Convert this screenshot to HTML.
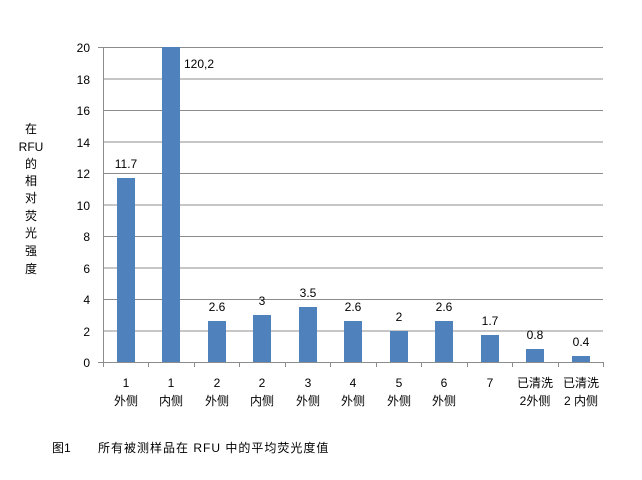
<!DOCTYPE html>
<html><head><meta charset="utf-8"><style>
body{margin:0;background:#fff;}
svg text{font-family:"Liberation Sans","Noto Sans CJK SC",sans-serif;font-size:12px;fill:#000;}
</style></head><body>
<svg width="642" height="475" xmlns="http://www.w3.org/2000/svg">
<g stroke="#8c8c8c" stroke-width="1">
<line x1="103" y1="47.5" x2="603" y2="47.5"/>
<line x1="103" y1="79" x2="603" y2="79"/>
<line x1="103" y1="110.5" x2="603" y2="110.5"/>
<line x1="103" y1="142" x2="603" y2="142"/>
<line x1="103" y1="173.5" x2="603" y2="173.5"/>
<line x1="103" y1="205" x2="603" y2="205"/>
<line x1="103" y1="236.5" x2="603" y2="236.5"/>
<line x1="103" y1="268" x2="603" y2="268"/>
<line x1="103" y1="299.5" x2="603" y2="299.5"/>
<line x1="103" y1="331" x2="603" y2="331"/>
<line x1="98" y1="362.5" x2="603" y2="362.5"/>
<line x1="103.5" y1="47" x2="103.5" y2="362"/>
<line x1="98" y1="47.5" x2="103" y2="47.5"/>
</g>
<g stroke="#8c8c8c">
<line x1="103.5" y1="362" x2="103.5" y2="367"/><line x1="148.5" y1="362" x2="148.5" y2="367"/><line x1="194.5" y1="362" x2="194.5" y2="367"/><line x1="239.5" y1="362" x2="239.5" y2="367"/><line x1="285.5" y1="362" x2="285.5" y2="367"/><line x1="330.5" y1="362" x2="330.5" y2="367"/><line x1="376.5" y1="362" x2="376.5" y2="367"/><line x1="421.5" y1="362" x2="421.5" y2="367"/><line x1="467.5" y1="362" x2="467.5" y2="367"/><line x1="512.5" y1="362" x2="512.5" y2="367"/><line x1="558.5" y1="362" x2="558.5" y2="367"/><line x1="603.5" y1="362" x2="603.5" y2="367"/>
</g>
<g text-anchor="end">
<text x="90" y="52">20</text><text x="90" y="84">18</text><text x="90" y="115">16</text><text x="90" y="147">14</text><text x="90" y="178">12</text><text x="90" y="210">10</text><text x="90" y="241">8</text><text x="90" y="273">6</text><text x="90" y="304">4</text><text x="90" y="336">2</text><text x="90" y="367">0</text>
</g>
<g fill="#4f81bd">
<rect x="117" y="178" width="18" height="184"/>
<rect x="162" y="47" width="18" height="315"/>
<rect x="208" y="321" width="18" height="41"/>
<rect x="253" y="315" width="18" height="47"/>
<rect x="299" y="307" width="18" height="55"/>
<rect x="344" y="321" width="18" height="41"/>
<rect x="390" y="331" width="18" height="31"/>
<rect x="435" y="321" width="18" height="41"/>
<rect x="481" y="335" width="18" height="27"/>
<rect x="526" y="349" width="18" height="13"/>
<rect x="572" y="356" width="18" height="6"/>
</g>
<g text-anchor="middle">
<text x="126" y="168">11.7</text>
<text x="199" y="68">120,2</text>
<text x="217" y="311">2.6</text>
<text x="262" y="305">3</text>
<text x="308" y="297">3.5</text>
<text x="353" y="311">2.6</text>
<text x="399" y="321">2</text>
<text x="444" y="311">2.6</text>
<text x="490" y="325">1.7</text>
<text x="535" y="339">0.8</text>
<text x="581" y="346">0.4</text>
<text x="126" y="387">1</text><text x="126" y="405">外侧</text>
<text x="171" y="387">1</text><text x="171" y="405">内侧</text>
<text x="217" y="387">2</text><text x="217" y="405">外侧</text>
<text x="262" y="387">2</text><text x="262" y="405">内侧</text>
<text x="308" y="387">3</text><text x="308" y="405">外侧</text>
<text x="353" y="387">4</text><text x="353" y="405">外侧</text>
<text x="399" y="387">5</text><text x="399" y="405">外侧</text>
<text x="444" y="387">6</text><text x="444" y="405">外侧</text>
<text x="490" y="387">7</text>
<text x="535" y="387">已清洗</text><text x="535" y="405">2外侧</text>
<text x="581" y="387">已清洗</text><text x="581" y="405">2 内侧</text>
<text x="31" y="133">在</text><text x="31" y="151">RFU</text><text x="31" y="168">的</text><text x="31" y="185">相</text><text x="31" y="202">对</text><text x="31" y="220">荧</text><text x="31" y="237">光</text><text x="31" y="255">强</text><text x="31" y="273">度</text>
</g>
<text x="52" y="452">图1</text>
<text x="98" y="452" style="letter-spacing:1px">所有被测样品在 RFU 中的平均荧光度值</text>
</svg>
</body></html>
